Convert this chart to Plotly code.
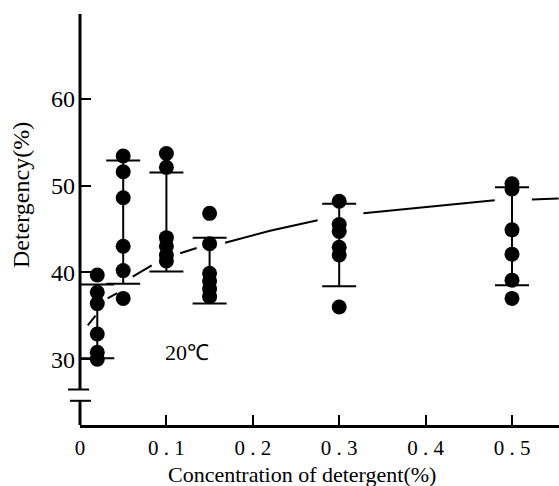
import plotly.graph_objects as go

# ---- data ----
conc_groups = [0.02, 0.05, 0.1, 0.15, 0.3, 0.5]
detergency = [
    [39.7, 37.7, 36.4, 32.9, 30.8, 30.0],   # 0.02 %
    [53.4, 51.6, 48.6, 43.0, 40.2, 37.0],   # 0.05 %
    [53.7, 52.1, 44.0, 43.0, 42.0, 41.3],   # 0.10 %
    [46.8, 43.3, 39.9, 39.0, 38.1, 37.2],   # 0.15 %
    [48.2, 45.5, 44.7, 42.9, 42.0, 36.0],   # 0.30 %
    [50.2, 49.6, 44.9, 42.1, 39.1, 37.0],   # 0.50 %
]
bar_upper = [38.6, 52.9, 51.5, 44.0, 47.9, 49.8]
bar_lower = [30.1, 38.7, 40.1, 36.4, 38.4, 38.5]

# fitted curve (drawn broken around the point groups)
curve_x = [0.009, 0.018, None, 0.032, 0.043, None, 0.061, 0.083, None,
           0.116, 0.135, None, 0.168, 0.22, 0.275, None,
           0.328, 0.405, 0.48, None, 0.523, 0.554]
curve_y = [33.9, 35.0, None, 37.0, 37.6, None, 39.5, 40.8, None,
           42.2, 42.8, None, 43.4, 44.8, 46.0, None,
           46.8, 47.6, 48.3, None, 48.4, 48.5]

x_ticks = [0, 0.1, 0.2, 0.3, 0.4, 0.5]
x_ticktext = ["0", "0 . 1", "0 . 2", "0 . 3", "0 . 4", "0 . 5"]
y_ticks = [30, 40, 50, 60]
y_ticktext = ["30", "40", "50", "60"]
x_range = [0, 0.5544]
y_range = [22.41, 69.77]
y_break = [25.2, 26.5]

FONT = "Liberation Serif, Times New Roman, serif"

fig = go.Figure()

# curve
fig.add_trace(go.Scatter(x=curve_x, y=curve_y, mode="lines",
                         line=dict(color="black", width=2),
                         connectgaps=False, hoverinfo="skip", showlegend=False))

# error bars (range bars)
mid = [(u + l) / 2 for u, l in zip(bar_upper, bar_lower)]
half = [(u - l) / 2 for u, l in zip(bar_upper, bar_lower)]
fig.add_trace(go.Scatter(x=conc_groups, y=mid, mode="markers",
                         marker=dict(size=1, opacity=0),
                         error_y=dict(type="data", array=half, symmetric=True,
                                      color="black", thickness=2, width=17),
                         showlegend=False, hoverinfo="skip"))

# points
px, py = [], []
for c, vals in zip(conc_groups, detergency):
    for v in vals:
        px.append(c)
        py.append(v)
fig.add_trace(go.Scatter(x=px, y=py, mode="markers",
                         marker=dict(size=15, color="black"),
                         showlegend=False))

shapes = [
    # y axis line with break
    dict(type="line", xref="paper", yref="y", x0=0, x1=0,
         y0=y_break[1], y1=y_range[1], line=dict(color="black", width=3)),
    dict(type="line", xref="paper", yref="y", x0=0, x1=0,
         y0=y_range[0], y1=y_break[0], line=dict(color="black", width=3)),
    dict(type="line", xref="paper", yref="y", x0=-0.025, x1=0.019,
         y0=y_break[1], y1=y_break[1], line=dict(color="black", width=2)),
    dict(type="line", xref="paper", yref="y", x0=-0.021, x1=0.023,
         y0=y_break[0], y1=y_break[0], line=dict(color="black", width=2)),
]

# plot area in pixels (for placing titles)
L, R, T, B = 80, 559, 14, 425
def paper_x(p):
    return (p - L) / (R - L)
def paper_y(p):
    return (B - p) / (B - T)

fig.update_layout(
    width=559, height=486,
    margin=dict(l=L, r=559 - R, t=T, b=486 - B),
    paper_bgcolor="white", plot_bgcolor="white",
    font=dict(family=FONT, color="black", size=20),
    shapes=shapes,
    xaxis=dict(range=x_range, tickvals=x_ticks, ticktext=x_ticktext,
               ticks="inside", ticklen=10, tickwidth=1.5, tickcolor="black",
               showline=True, linewidth=2.5, linecolor="black",
               showgrid=False, zeroline=False,
               tickfont=dict(family=FONT, size=21), ticklabelstandoff=2),
    yaxis=dict(range=y_range, tickvals=y_ticks, ticktext=y_ticktext,
               ticks="inside", ticklen=11, tickwidth=1.5, tickcolor="black",
               showline=False, showgrid=False, zeroline=False,
               tickfont=dict(family=FONT, size=24), ticklabelstandoff=4),
    annotations=[
        dict(text="Concentration of detergent(%)", x=paper_x(302), y=paper_y(474),
             xref="paper", yref="paper", xanchor="center", yanchor="middle",
             showarrow=False, font=dict(family=FONT, size=22)),
        dict(text="Detergency(%)", x=paper_x(21), y=paper_y(195),
             xref="paper", yref="paper", xanchor="center", yanchor="middle",
             textangle=-90, showarrow=False, font=dict(family=FONT, size=24)),
        dict(text="20℃", x=0.124, y=30.8, xref="x", yref="y",
             showarrow=False, font=dict(family=FONT, size=22)),
    ],
)

fig.write_html("out.html")
